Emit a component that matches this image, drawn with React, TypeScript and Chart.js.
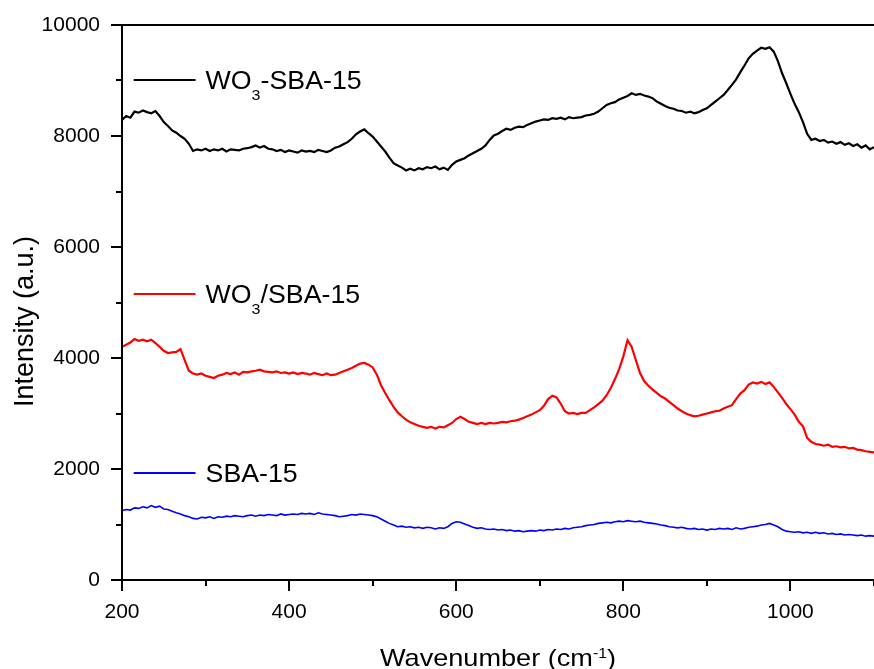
import React, { useEffect, useRef } from 'react';
import { Chart, registerables } from 'chart.js';

Chart.register(...registerables);

// ---------------- data ----------------
const WN_START = 200;
const WN_STEP = 5;

const WO3_SBA15 = [
  8290, 8360, 8330, 8440, 8420, 8460, 8430, 8410, 8450, 8360,
  8250, 8180, 8100, 8060, 8000, 7950, 7860, 7730, 7760, 7740,
  7770, 7730, 7760, 7740, 7770, 7720, 7760, 7750, 7740, 7770,
  7780, 7800, 7830, 7790, 7820, 7770, 7760, 7730, 7750, 7710,
  7740, 7720, 7700, 7740, 7720, 7730, 7710, 7750, 7730, 7710,
  7740, 7790, 7810, 7850, 7890, 7950, 8030, 8080, 8120, 8050,
  7990, 7900, 7810, 7720, 7610, 7510, 7470, 7430, 7380, 7410,
  7380, 7420, 7400, 7440, 7420, 7450, 7400, 7430, 7390, 7480,
  7540, 7570, 7600, 7650, 7690, 7730, 7770, 7830, 7930, 8010,
  8040, 8090, 8130, 8110, 8150, 8170, 8160, 8200, 8230, 8260,
  8280, 8300, 8290, 8320, 8310, 8330, 8300, 8340, 8320, 8330,
  8340, 8370, 8380, 8400, 8440, 8500, 8560, 8590, 8610, 8660,
  8690, 8720, 8770, 8740, 8760, 8730, 8710, 8680, 8620, 8580,
  8540, 8510, 8490, 8460, 8450, 8420, 8440, 8410, 8430, 8470,
  8500, 8560, 8620, 8680, 8740, 8830, 8920, 9020, 9150, 9270,
  9400, 9480, 9540, 9590, 9570, 9600, 9520, 9350, 9130, 8950,
  8760, 8580, 8430, 8250, 8040, 7930, 7950, 7910, 7930, 7880,
  7900, 7860, 7890, 7840, 7870, 7820, 7850, 7790, 7830, 7760,
  7800,
];

const WO3_ON_SBA15 = [
  4200, 4240, 4280, 4340, 4310, 4330, 4300, 4330, 4270, 4200,
  4130, 4090, 4100, 4110, 4160, 3960, 3770, 3720, 3700, 3720,
  3680, 3660, 3640, 3680, 3700, 3730, 3710, 3740, 3700, 3750,
  3740, 3760, 3770, 3790, 3760, 3750, 3740, 3760, 3730, 3740,
  3720, 3740, 3710, 3730, 3720, 3700, 3730, 3710, 3690, 3720,
  3690, 3700, 3730, 3760, 3790, 3820, 3860, 3900, 3910, 3880,
  3830, 3700, 3510, 3370, 3240, 3120, 3020, 2950, 2890, 2840,
  2810, 2780, 2760, 2740, 2760, 2730, 2760, 2750, 2790, 2830,
  2900, 2940, 2900, 2850, 2830, 2810, 2830, 2810, 2830, 2820,
  2830, 2850, 2840, 2860, 2870, 2890, 2920, 2950, 2980, 3020,
  3060, 3140, 3260, 3320, 3290, 3180, 3040, 3000, 3010, 2990,
  3010, 3010, 3060, 3110, 3170, 3230, 3330, 3460, 3620, 3800,
  4030, 4320, 4200, 3960, 3730, 3580, 3500, 3430, 3370, 3310,
  3270, 3210, 3150, 3090, 3040, 3000, 2970, 2950, 2960, 2980,
  3000, 3020, 3040, 3050, 3090, 3120, 3150, 3260, 3360, 3420,
  3520, 3560, 3540, 3570, 3530, 3560, 3480, 3380, 3280, 3170,
  3080, 2980, 2850, 2770, 2560, 2490, 2450, 2440, 2420, 2440,
  2400, 2410, 2390, 2400, 2370, 2380, 2350, 2340, 2320, 2310,
  2300,
];

const SBA15 = [
  1250, 1270, 1260, 1300, 1290, 1320, 1300, 1340, 1310, 1330,
  1280, 1270, 1240, 1210, 1190, 1160, 1140, 1110, 1100, 1130,
  1120, 1140, 1110, 1140, 1130, 1150, 1140, 1160, 1150, 1140,
  1160, 1170, 1150, 1170, 1160, 1180, 1170, 1160, 1190, 1170,
  1180, 1190, 1180, 1200, 1190, 1200, 1180, 1210, 1190, 1180,
  1170, 1160, 1140, 1150, 1160, 1180, 1170, 1190, 1180, 1170,
  1160, 1140, 1100, 1060, 1020, 990, 960, 970, 950, 960,
  940, 950, 930, 950, 940, 920, 940, 930, 960, 1020,
  1050, 1040, 1010, 980, 950, 930, 940, 920, 910, 920,
  900, 910, 890, 900, 880, 890, 870, 880, 890, 880,
  900, 890, 910, 900, 920, 910, 930, 920, 940, 950,
  960, 980, 990, 1000, 1020, 1030, 1040, 1030, 1050, 1060,
  1050, 1070, 1060, 1050, 1060, 1040, 1030, 1020, 1010, 990,
  980, 960, 950, 940, 950, 930, 920, 930, 910, 920,
  900, 920, 910, 930, 920, 930, 910, 940, 920, 930,
  950, 960, 970, 990, 1000, 1020, 990, 960, 910, 880,
  870, 860, 870, 850, 860, 840, 860, 840, 850, 830,
  840, 820, 830, 810, 820, 810, 800, 810, 790, 800,
  790,
];

const WAVENUMBERS = WO3_SBA15.map((_, i) => WN_START + WN_STEP * i);

const X_MIN = 200;
const X_MAX = 1100;
const Y_MIN = 0;
const Y_MAX = 10000;
const X_TICK_LABELS = [200, 400, 600, 800, 1000];
const Y_TICK_LABELS = [0, 2000, 4000, 6000, 8000, 10000];

const SERIES_LABELS = [
  [{ t: 'WO' }, { t: '3', sub: true }, { t: '-SBA-15' }],
  [{ t: 'WO' }, { t: '3', sub: true }, { t: '/SBA-15' }],
  [{ t: 'SBA-15' }],
];
const SERIES_COLORS = ['#000000', '#ff0000', '#0000ff'];

const X_TITLE = [{ t: 'Wavenumber (cm' }, { t: '-1', sup: true }, { t: ')' }];
const Y_TITLE = 'Intensity (a.u.)';

// ---------------- drawing helpers ----------------
const FONT = '"Liberation Sans", Arial, sans-serif';

type Part = { t: string; sub?: boolean; sup?: boolean };

function drawRich(
  ctx: CanvasRenderingContext2D,
  parts: Part[],
  x: number,
  baseline: number,
  size: number,
  smallSize: number,
  subDy: number,
  supDy: number,
  stretch: number,
  align: 'left' | 'center'
) {
  ctx.save();
  ctx.textBaseline = 'alphabetic';
  ctx.textAlign = 'left';
  const widths = parts.map((p) => {
    ctx.font = `${p.sub || p.sup ? smallSize : size}px ${FONT}`;
    return ctx.measureText(p.t).width;
  });
  const total = widths.reduce((a, b) => a + b, 0) * stretch;
  const start = align === 'center' ? x - total / 2 : x;
  ctx.translate(start, baseline);
  ctx.scale(stretch, 1);
  let cx = 0;
  parts.forEach((p, i) => {
    ctx.font = `${p.sub || p.sup ? smallSize : size}px ${FONT}`;
    const dy = p.sub ? subDy : p.sup ? supDy : 0;
    ctx.fillText(p.t, cx, dy);
    cx += widths[i];
  });
  ctx.restore();
}

const LEGEND_Y_VALUES = [9000, 5150, 1930];

const framePlugin = {
  id: 'frameAndLabels',
  afterDraw(chart: any) {
    const { ctx, chartArea, scales } = chart;
    const { left, right, top, bottom } = chartArea;
    const xs = scales.x;
    const ys = scales.y;
    ctx.save();
    ctx.strokeStyle = '#000';
    ctx.lineWidth = 2;
    ctx.lineCap = 'butt';
    ctx.beginPath();
    ctx.moveTo(left - 1, top);
    ctx.lineTo(right, top);
    ctx.moveTo(left, top);
    ctx.lineTo(left, bottom + 1);
    ctx.moveTo(left - 1, bottom);
    ctx.lineTo(right, bottom);
    ctx.stroke();

    // x ticks
    ctx.beginPath();
    for (let v = X_MIN; v <= X_MAX; v += 100) {
      const px = Math.round(xs.getPixelForValue(v));
      const len = v % 200 === 0 ? 11 : 6;
      ctx.moveTo(px, bottom);
      ctx.lineTo(px, bottom + len);
    }
    // y ticks
    for (let v = Y_MIN; v <= Y_MAX; v += 1000) {
      const py = Math.round(ys.getPixelForValue(v));
      const len = v % 2000 === 0 ? 11 : 6;
      ctx.moveTo(left, py);
      ctx.lineTo(left - len, py);
    }
    ctx.stroke();

    // legend entries placed inside plot
    SERIES_LABELS.forEach((parts, i) => {
      const py = Math.round(ys.getPixelForValue(LEGEND_Y_VALUES[i]));
      const x0 = xs.getPixelForValue(214);
      const x1 = xs.getPixelForValue(288);
      ctx.strokeStyle = SERIES_COLORS[i];
      ctx.lineWidth = 2;
      ctx.beginPath();
      ctx.moveTo(x0, py);
      ctx.lineTo(x1, py);
      ctx.stroke();
      ctx.fillStyle = '#000';
      drawRich(ctx, parts, xs.getPixelForValue(300), py + 9, 25, 15, 11, 0, 1.07, 'left');
    });

    // x title
    ctx.fillStyle = '#000';
    drawRich(ctx, X_TITLE, (left + right) / 2, 666, 24, 14, 0, -8, 1.13, 'center');

    // y title
    ctx.save();
    ctx.translate(33, 407);
    ctx.rotate(-Math.PI / 2);
    ctx.font = `27px ${FONT}`;
    ctx.textAlign = 'left';
    ctx.textBaseline = 'alphabetic';
    ctx.fillStyle = '#000';
    ctx.fillText(Y_TITLE, 0, 0);
    ctx.restore();

    ctx.restore();
  },
};

export default function App() {
  const canvasRef = useRef<HTMLCanvasElement | null>(null);

  useEffect(() => {
    if (!canvasRef.current) return;
    const mk = (vals: number[]) => vals.map((v, i) => ({ x: WAVENUMBERS[i], y: v }));
    const chart = new Chart(canvasRef.current, {
      type: 'line',
      data: {
        datasets: [
          { label: 'WO3-SBA-15', data: mk(WO3_SBA15), borderColor: SERIES_COLORS[0], borderWidth: 2.2 },
          { label: 'WO3/SBA-15', data: mk(WO3_ON_SBA15), borderColor: SERIES_COLORS[1], borderWidth: 2.2 },
          { label: 'SBA-15', data: mk(SBA15), borderColor: SERIES_COLORS[2], borderWidth: 1.6 },
        ],
      },
      options: {
        animation: false,
        responsive: false,
        devicePixelRatio: 1,
        elements: { point: { radius: 0 }, line: { tension: 0 } },
        layout: { padding: { top: 25, right: 0, left: 0, bottom: 0 } },
        plugins: { legend: { display: false }, tooltip: { enabled: false }, title: { display: false } },
        scales: {
          x: {
            type: 'linear',
            min: X_MIN,
            max: X_MAX,
            grid: { display: true, drawOnChartArea: false, drawTicks: true, tickLength: 10, tickColor: 'rgba(0,0,0,0)' },
            border: { display: false },
            ticks: {
              stepSize: 100,
              autoSkip: false,
              maxRotation: 0,
              padding: 10,
              color: '#000',
              font: { family: FONT, size: 21 },
              callback: (v: any) => (X_TICK_LABELS.includes(Number(v)) ? String(v) : ''),
            },
            afterFit: (s: any) => {
              s.height = 89;
              s.paddingRight = 0;
            },
          },
          y: {
            type: 'linear',
            min: Y_MIN,
            max: Y_MAX,
            grid: { display: true, drawOnChartArea: false, drawTicks: true, tickLength: 10, tickColor: 'rgba(0,0,0,0)' },
            border: { display: false },
            ticks: {
              stepSize: 1000,
              autoSkip: false,
              padding: 12,
              color: '#000',
              font: { family: FONT, size: 21 },
              callback: (v: any) => (Y_TICK_LABELS.includes(Number(v)) ? String(v) : ''),
            },
            afterFit: (s: any) => {
              s.width = 122;
            },
          },
        },
      },
      plugins: [framePlugin],
    });
    return () => chart.destroy();
  }, []);

  return (
    <div style={{ position: 'absolute', left: 0, top: 0, width: 874, height: 669, background: '#fff' }}>
      <canvas ref={canvasRef} width={874} height={669} style={{ width: 874, height: 669, display: 'block' }} />
    </div>
  );
}
